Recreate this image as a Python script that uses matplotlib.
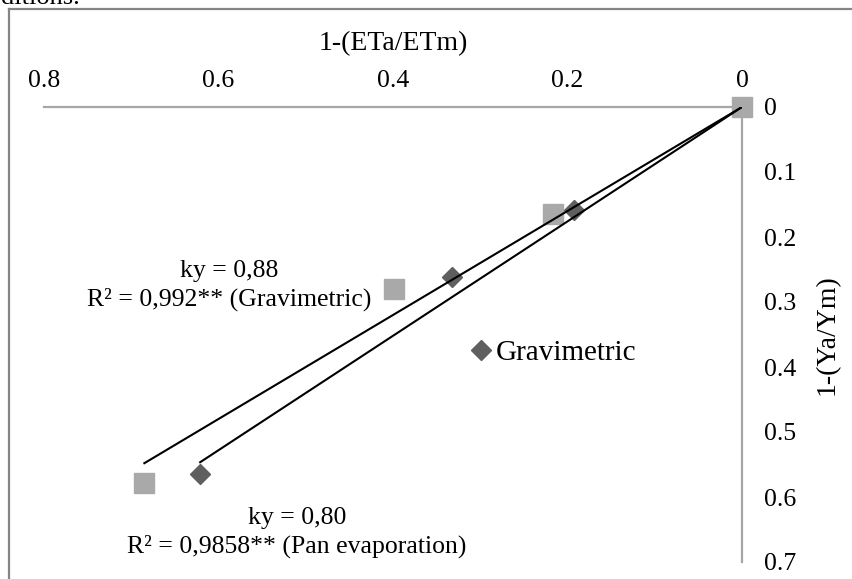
import numpy as np
import matplotlib.pyplot as plt
from matplotlib.lines import Line2D

plt.rcParams['font.family'] = ['Liberation Serif', 'DejaVu Serif']

# data
grav_x = [0.193, 0.332, 0.621]
grav_y = [0.159, 0.262, 0.565]
pan_x = [0.0, 0.217, 0.399, 0.685]
pan_y = [0.0, 0.165, 0.280, 0.579]
ky_grav = 0.88
ky_pan = 0.80
xticks = [0, 0.2, 0.4, 0.6, 0.8]
yticks = [0, 0.1, 0.2, 0.3, 0.4, 0.5, 0.6, 0.7]

W, H = 852, 579
fig = plt.figure(figsize=(W / 100, H / 100), dpi=100)
ax = fig.add_axes([44 / W, (H - 562) / H, 698 / W, 455 / H])

# frame around the chart (right/bottom cut off in the screenshot)
fig.add_artist(Line2D([9 / W, 9 / W], [0, 1 - 9 / H], color='#858585', lw=1.6))
fig.add_artist(Line2D([9 / W, 1], [1 - 9 / H, 1 - 9 / H], color='#858585', lw=1.6))
fig.text(1 / W, 1 - 4 / H, 'ditions.', fontsize=19, va='baseline', ha='left')

ax.plot(pan_x, pan_y, 's', color='#a9a9a9', markersize=14.5, clip_on=False, zorder=3)
ax.plot(grav_x, grav_y, 'D', color='#5f5f5f', markersize=10, clip_on=False, zorder=4,
        label='Gravimetric')

xl = np.array([0, max(pan_x)])
ax.plot(xl, ky_pan * xl, color='black', lw=1.5, zorder=5)
xl = np.array([0, max(grav_x)])
ax.plot(xl, ky_grav * xl, color='black', lw=1.5, zorder=5)

ax.set_xlim(0.8, 0)
ax.set_ylim(0.7, 0)
ax.set_xticks(xticks)
ax.set_xticklabels(['0' if v == 0 else f'{v:g}' for v in xticks])
ax.set_yticks(yticks)
ax.set_yticklabels(['0' if v == 0 else f'{v:g}' for v in yticks])
ax.xaxis.tick_top()
ax.yaxis.tick_right()
ax.tick_params(axis='x', length=0, pad=11, labelsize=18.5)
ax.tick_params(axis='y', length=0, pad=16, labelsize=18.5)
ax.xaxis.set_label_position('top')
ax.yaxis.set_label_position('right')
ax.set_xlabel('1-(ETa/ETm)', fontsize=20, labelpad=14)
ax.set_ylabel('1-(Ya/Ym)', fontsize=20, labelpad=13)

for s in ['left', 'bottom']:
    ax.spines[s].set_visible(False)
for s in ['top', 'right']:
    ax.spines[s].set_color('#a6a6a6')
    ax.spines[s].set_linewidth(1.6)

ax.text(0.588, 0.274, 'ky = 0,88\nR² = 0,992** (Gravimetric)', ha='center', va='center',
        fontsize=18.5, linespacing=1.3)
ax.text(0.51, 0.655, 'ky = 0,80\nR² = 0,9858** (Pan evaporation)', ha='center', va='center',
        fontsize=18.5, linespacing=1.3)

ax.legend(loc='center left', bbox_to_anchor=(0.609, 0.46), frameon=False, fontsize=21,
          handlelength=0.8, handletextpad=0.12, borderpad=0, borderaxespad=0)

fig.savefig('out.png', dpi=100)
